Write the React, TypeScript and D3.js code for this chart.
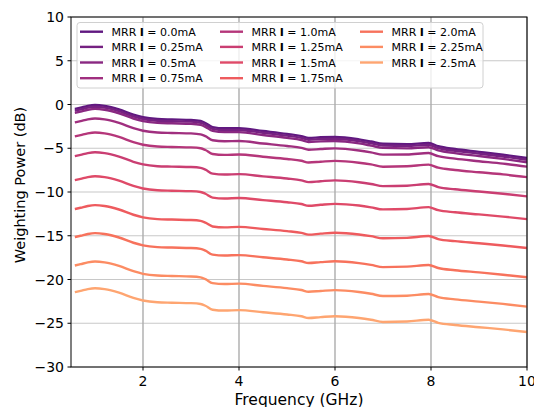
import React from "react";
import * as d3 from "d3";

const FREQ = [0.58,0.7,0.85,1.0,1.2,1.5,1.8,2.0,2.3,2.6,3.0,3.2,3.3,3.45,3.7,4.0,4.5,5.0,5.3,5.45,5.7,6.0,6.5,6.75,7.0,7.5,7.95,8.15,8.5,9.0,9.5,10.0];

const CURRENTS = ["0.0","0.25","0.5","0.75","1.0","1.25","1.5","1.75","2.0","2.25","2.5"];

const S_0_00 = [-0.51,-0.36,-0.16,-0.06,-0.16,-0.56,-1.16,-1.46,-1.66,-1.71,-1.76,-1.89,-2.11,-2.58,-2.72,-2.71,-3.03,-3.36,-3.61,-3.82,-3.75,-3.71,-3.99,-4.23,-4.49,-4.54,-4.40,-4.77,-5.09,-5.41,-5.74,-6.11];
const S_0_25 = [-0.71,-0.56,-0.36,-0.26,-0.36,-0.76,-1.36,-1.66,-1.86,-1.91,-1.96,-2.09,-2.31,-2.78,-2.92,-2.91,-3.23,-3.56,-3.81,-4.02,-3.95,-3.91,-4.19,-4.43,-4.69,-4.74,-4.60,-4.97,-5.29,-5.61,-5.94,-6.31];
const S_0_50 = [-0.95,-0.80,-0.60,-0.50,-0.60,-1.00,-1.60,-1.90,-2.10,-2.15,-2.20,-2.33,-2.55,-3.02,-3.16,-3.16,-3.49,-3.81,-4.06,-4.28,-4.21,-4.17,-4.45,-4.70,-4.96,-5.01,-4.88,-5.24,-5.56,-5.89,-6.22,-6.60];
const S_0_75 = [-2.05,-1.90,-1.70,-1.60,-1.70,-2.10,-2.70,-3.00,-3.20,-3.25,-3.30,-3.41,-3.62,-4.08,-4.20,-4.17,-4.46,-4.74,-4.96,-5.17,-5.09,-5.01,-5.25,-5.47,-5.73,-5.72,-5.55,-5.91,-6.19,-6.48,-6.76,-7.10];
const S_1_00 = [-3.65,-3.50,-3.30,-3.20,-3.30,-3.70,-4.30,-4.60,-4.80,-4.85,-4.90,-5.00,-5.20,-5.66,-5.76,-5.71,-5.97,-6.23,-6.43,-6.63,-6.54,-6.44,-6.65,-6.85,-7.11,-7.06,-6.87,-7.22,-7.48,-7.74,-7.99,-8.30];
const S_1_25 = [-5.90,-5.75,-5.55,-5.45,-5.55,-5.95,-6.55,-6.85,-7.05,-7.10,-7.15,-7.25,-7.45,-7.90,-8.00,-7.96,-8.21,-8.46,-8.67,-8.87,-8.77,-8.67,-8.88,-9.08,-9.33,-9.28,-9.09,-9.44,-9.69,-9.94,-10.20,-10.50];
const S_1_50 = [-8.65,-8.50,-8.30,-8.20,-8.30,-8.70,-9.30,-9.60,-9.80,-9.85,-9.90,-10.00,-10.20,-10.64,-10.74,-10.69,-10.93,-11.17,-11.37,-11.57,-11.46,-11.36,-11.55,-11.75,-11.99,-11.94,-11.73,-12.08,-12.32,-12.56,-12.81,-13.10];
const S_1_75 = [-11.95,-11.80,-11.60,-11.50,-11.60,-12.00,-12.60,-12.90,-13.10,-13.15,-13.20,-13.30,-13.50,-13.94,-14.04,-13.99,-14.23,-14.47,-14.67,-14.87,-14.76,-14.66,-14.85,-15.05,-15.29,-15.24,-15.03,-15.38,-15.62,-15.86,-16.11,-16.40];
const S_2_00 = [-15.15,-15.00,-14.80,-14.70,-14.80,-15.20,-15.80,-16.10,-16.30,-16.35,-16.40,-16.50,-16.70,-17.15,-17.26,-17.21,-17.46,-17.71,-17.92,-18.12,-18.02,-17.92,-18.13,-18.33,-18.58,-18.53,-18.34,-18.69,-18.94,-19.19,-19.45,-19.75];
const S_2_25 = [-18.40,-18.25,-18.05,-17.95,-18.05,-18.45,-19.05,-19.35,-19.55,-19.60,-19.65,-19.75,-19.96,-20.41,-20.52,-20.47,-20.73,-20.99,-21.20,-21.40,-21.31,-21.21,-21.43,-21.63,-21.88,-21.85,-21.66,-22.01,-22.27,-22.53,-22.79,-23.10];
const S_2_50 = [-21.45,-21.30,-21.10,-21.00,-21.10,-21.50,-22.10,-22.40,-22.60,-22.65,-22.70,-22.80,-23.00,-23.45,-23.55,-23.50,-23.75,-24.00,-24.20,-24.40,-24.30,-24.20,-24.40,-24.60,-24.85,-24.80,-24.60,-24.95,-25.20,-25.45,-25.70,-26.00];

const SERIES = [S_0_00,S_0_25,S_0_50,S_0_75,S_1_00,S_1_25,S_1_50,S_1_75,S_2_00,S_2_25,S_2_50];

const X_TICKS = [2,4,6,8,10];
const Y_TICKS = [10,5,0,-5,-10,-15,-20,-25,-30];

const W = 534, H = 407;
const FONT = "DejaVu Sans, sans-serif";

export default function App() {
  const x = d3.scaleLinear().domain([0.5, 10]).range([71, 527]);
  const y = d3.scaleLinear().domain([-30, 10]).range([367, 17]);
  const color = (i: number) => d3.interpolateMagma(0.29 + i * 0.052);
  const line = d3.line<number>()
    .x((_, i) => x(FREQ[i]))
    .y((v) => y(v))
    .curve(d3.curveMonotoneX);

  const fmt = (v: number) => (v < 0 ? "\u2212" + Math.abs(v) : String(v));

  const legCols = [80, 220, 360];
  const legRows = [31.7, 46.9, 62.5, 78.2];

  return (
    <svg width={W} height={H} style={{ position: "absolute", left: 0, top: 0, background: "#fff" }} fontFamily={FONT}>
      <rect x={0} y={0} width={W} height={H} fill="#fff" />
      <defs>
        <clipPath id="plot">
          <rect x={71} y={17} width={456} height={350} />
        </clipPath>
      </defs>
      {Y_TICKS.map((t) => (
        <line key={"gy" + t} x1={71} x2={527} y1={y(t)} y2={y(t)} stroke="#c8c8c8" strokeWidth={1.2} />
      ))}
      {X_TICKS.map((t) => (
        <line key={"gx" + t} x1={x(t)} x2={x(t)} y1={17} y2={367} stroke="#acacac" strokeWidth={1.4} />
      ))}
      <g clipPath="url(#plot)">
        {SERIES.map((s, i) => (
          <path key={i} d={line(s) || ""} fill="none" stroke={color(i)} strokeWidth={2.4} strokeLinejoin="round" />
        ))}
      </g>
      <rect x={71} y={17} width={456} height={350} fill="none" stroke="#000" strokeWidth={1} />
      {X_TICKS.map((t) => (
        <g key={"xt" + t}>
          <line x1={x(t)} x2={x(t)} y1={367} y2={370.5} stroke="#000" strokeWidth={1} />
          <text x={x(t)} y={386} textAnchor="middle" fontSize={14} fill="#000">{t}</text>
        </g>
      ))}
      {Y_TICKS.map((t) => (
        <g key={"yt" + t}>
          <line x1={67.5} x2={71} y1={y(t)} y2={y(t)} stroke="#000" strokeWidth={1} />
          <text x={64} y={y(t) + 5} textAnchor="end" fontSize={14} fill="#000">{fmt(t)}</text>
        </g>
      ))}
      <text x={299} y={405} textAnchor="middle" fontSize={15.5} fill="#000">Frequency (GHz)</text>
      <text transform={`translate(25,185) rotate(-90)`} textAnchor="middle" fontSize={14.5} fill="#000">Weighting Power (dB)</text>
      <rect x={77} y={22.5} width={406} height={65.5} rx={3} fill="#fff" fillOpacity={0.8} stroke="#d0d0d0" strokeWidth={1} />
      {CURRENTS.map((c, i) => {
        const col = Math.floor(i / 4), row = i % 4;
        const lx = legCols[col], ly = legRows[row];
        return (
          <g key={"lg" + i}>
            <line x1={lx} x2={lx + 23} y1={ly} y2={ly} stroke={color(i)} strokeWidth={2.4} />
            <text x={lx + 31.5} y={ly + 4} fontSize={11} fill="#000">
              MRR <tspan fontWeight="bold">I</tspan> = {c}mA
            </text>
          </g>
        );
      })}
    </svg>
  );
}
